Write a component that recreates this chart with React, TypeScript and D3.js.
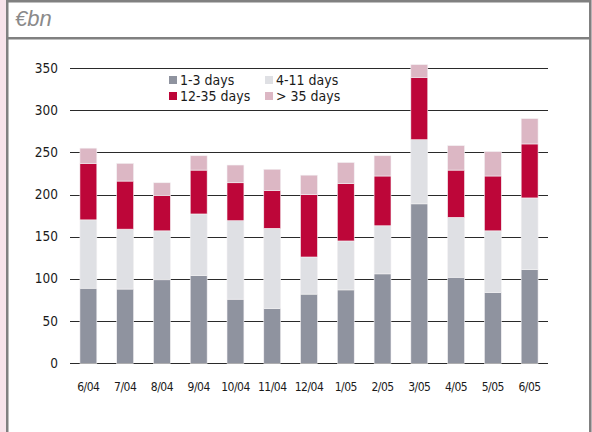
import * as d3 from "d3"

// Month labels along the x axis
const months = ["6/04", "7/04", "8/04", "9/04", "10/04", "11/04", "12/04", "1/05", "2/05", "3/05", "4/05", "5/05", "6/05"]

// Segment sizes, €bn
const days1to3 = [89, 88, 99, 104, 76, 65, 82, 87, 106, 189, 102, 84, 111]
const days4to11 = [81, 71, 58, 73, 93, 95, 44, 58, 57, 76, 71, 73, 85]
const days12to35 = [67, 57, 42, 52, 45, 45, 74, 68, 59, 74, 56, 65, 64]
const daysOver35 = [18, 21, 15, 17, 21, 25, 23, 25, 24, 15, 29, 29, 30]

const yTicks = [0, 50, 100, 150, 200, 250, 300, 350]

const seriesKeys = ["a", "b", "c", "d"]
const seriesNames = ["1-3 days", "4-11 days", "12-35 days", "> 35 days"]
const seriesColors = ["#8f939f", "#dfe0e4", "#bd0639", "#dcb7c4"]

const font = "'Liberation Sans Narrow', 'DejaVu Sans Condensed', 'Roboto', sans-serif"

export default function App() {
  const width = 592
  const height = 432

  const rows = months.map((m, i) => ({
    month: m,
    a: days1to3[i],
    b: days4to11[i],
    c: days12to35[i],
    d: daysOver35[i],
  }))

  const stack = d3.stack<any>().keys(seriesKeys)(rows)

  const x = d3
    .scaleBand()
    .domain(months)
    .range([70, 548])
    .paddingInner(0.54)
    .paddingOuter(0.27)

  const y = d3.scaleLinear().domain([0, 350]).range([363.3, 68])

  // legend layout: two columns, two rows
  const legendPos = [
    { x: 169, y: 81 },
    { x: 265, y: 81 },
    { x: 169, y: 97 },
    { x: 265, y: 97 },
  ]

  return (
    <svg
      width={width}
      height={height}
      style={{ position: "absolute", left: 0, top: 0, background: "#fff" }}
    >
      {/* frame */}
      <rect x={0} y={0} width={6} height={height} fill="#f7e3ea" />
      <rect x={591} y={0} width={1} height={height} fill="#f7e3ea" />
      <rect x={6} y={0} width={2.5} height={height} fill="#808080" />
      <rect x={589} y={0} width={2.5} height={height} fill="#808080" />
      <rect x={6} y={0} width={585} height={2.5} fill="#808080" />
      <rect x={6} y={37} width={585} height={2.5} fill="#808080" />
      <text
        x={15}
        y={26}
        fontFamily="'Liberation Sans', Arial, sans-serif"
        fontStyle="italic"
        fontSize={22}
        fill="#8a8a8a"
      >
        €bn
      </text>

      {/* grid + y ticks */}
      {yTicks.map((t) => (
        <g key={t}>
          <line x1={70} x2={548} y1={Math.round(y(t)) + 0.5} y2={Math.round(y(t)) + 0.5} stroke="#2a2a2a" strokeWidth={1} />
          <text
            x={58}
            y={y(t) + 4.5}
            textAnchor="end"
            fontFamily={font}
            fontSize={13.5}
            fill="#1a1a1a"
          >
            {t}
          </text>
        </g>
      ))}

      {/* bars */}
      {stack.map((s, si) => (
        <g key={s.key} fill={seriesColors[si]}>
          {s.map((d, i) => (
            <rect
              key={i}
              x={x(months[i])}
              y={y(d[1])}
              width={x.bandwidth()}
              height={y(d[0]) - y(d[1])}
              stroke="#f4f2f4"
              strokeWidth={0.6}
            />
          ))}
        </g>
      ))}

      {/* x labels */}
      {months.map((m) => (
        <text
          key={m}
          x={(x(m) || 0) + x.bandwidth() / 2}
          y={391}
          textAnchor="middle"
          fontFamily={font}
          fontSize={12}
          fill="#1a1a1a"
          letterSpacing={-0.5}
        >
          {m}
        </text>
      ))}

      {/* legend */}
      {seriesNames.map((n, i) => (
        <g key={n}>
          <rect x={legendPos[i].x} y={legendPos[i].y - 5} width={8} height={8} fill={seriesColors[i]} />
          <text
            x={legendPos[i].x + 11}
            y={legendPos[i].y + 4}
            fontFamily={font}
            fontSize={14}
            fill="#1a1a1a"
          >
            {n}
          </text>
        </g>
      ))}
    </svg>
  )
}
